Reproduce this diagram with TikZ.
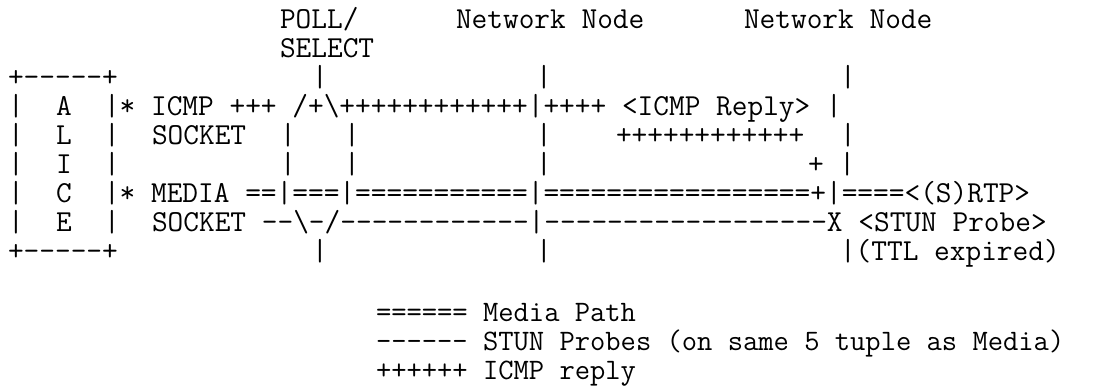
\documentclass[tikz,border=0pt]{standalone}
\usepackage{fontspec}
\newcommand{\mainmono}{\ttfamily\fontsize{30.48bp}{29bp}\selectfont}
\newcommand{\legmono}{\ttfamily\fontsize{29.7bp}{29bp}\selectfont}
\newcommand{\bs}{\textbackslash}
\tikzset{
  txt/.style={anchor=base west, inner sep=0pt, outer sep=0pt, font=\mainmono, text=black},
  leg/.style={anchor=base west, inner sep=0pt, outer sep=0pt, font=\legmono, text=black}
}
\begin{document}
\begin{tikzpicture}[x=1bp,y=-1bp]
\fill[white] (0,0) rectangle (1099,385);
\useasboundingbox (0,0) rectangle (1099,385);
% column c -> x = 8 + 16 c ; row r -> baseline y = 28.5 + 29 r
\def\C#1{8+16*#1}
\def\R#1{28.5+29*#1}
% row 0, 1
\node[txt] (poll)  at ({\C{17}},{\R{0}}) {POLL/};
\node[txt] (nn1)   at ({\C{28}},{\R{0}}) {Network Node};
\node[txt] (nn2)   at ({\C{46}},{\R{0}}) {Network Node};
\node[txt] (sel)   at ({\C{17}},{\R{1}}) {SELECT};
% row 2
\node[txt] (boxtop) at ({\C{0}},{\R{2}}) {+-----+};
\node[txt] (v2a) at ({\C{19}},{\R{2}}) {|};
\node[txt] (v2b) at ({\C{33}},{\R{2}}) {|};
\node[txt] (v2c) at ({\C{52}},{\R{2}}) {|};
% row 3
\node[txt] (l3a) at ({\C{0}},{\R{3}}) {|};
\node[txt] (ltA) at ({\C{3}},{\R{3}}) {A};
\node[txt] (l3b) at ({\C{6}},{\R{3}}) {|* ICMP +++ /+\bs++++++++++++|++++ <ICMP Reply> |};
% row 4
\node[txt] (l4a) at ({\C{0}},{\R{4}}) {|};
\node[txt] (ltL) at ({\C{3}},{\R{4}}) {L};
\node[txt] (l4b) at ({\C{6}},{\R{4}}) {|};
\node[txt] (sock1) at ({\C{9}},{\R{4}}) {SOCKET};
\node[txt] (l4c) at ({\C{17}},{\R{4}}) {|};
\node[txt] (l4d) at ({\C{21}},{\R{4}}) {|};
\node[txt] (l4e) at ({\C{33}},{\R{4}}) {|};
\node[txt] (l4f) at ({\C{38}},{\R{4}}) {++++++++++++};
\node[txt] (l4g) at ({\C{52}},{\R{4}}) {|};
% row 5
\node[txt] (l5a) at ({\C{0}},{\R{5}}) {|};
\node[txt] (ltI) at ({\C{3}},{\R{5}}) {I};
\node[txt] (l5b) at ({\C{6}},{\R{5}}) {|};
\node[txt] (l5c) at ({\C{17}},{\R{5}}) {|};
\node[txt] (l5d) at ({\C{21}},{\R{5}}) {|};
\node[txt] (l5e) at ({\C{33}},{\R{5}}) {|};
\node[txt] (l5f) at ({\C{50}},{\R{5}}) {+ |};
% row 6
\node[txt] (l6a) at ({\C{0}},{\R{6}}) {|};
\node[txt] (ltC) at ({\C{3}},{\R{6}}) {C};
\node[txt] (l6b) at ({\C{6}},{\R{6}}) {|* MEDIA ==|===|===========|=================+|====<(S)RTP>};
% row 7
\node[txt] (l7a) at ({\C{0}},{\R{7}}) {|};
\node[txt] (ltE) at ({\C{3}},{\R{7}}) {E};
\node[txt] (l7b) at ({\C{6}},{\R{7}}) {|};
\node[txt] (l7c) at ({\C{9}},{\R{7}}) {SOCKET --\bs-/------------|------------------X <STUN Probe>};
% row 8
\node[txt] (boxbot) at ({\C{0}},{\R{8}}) {+-----+};
\node[txt] (v8a) at ({\C{19}},{\R{8}}) {|};
\node[txt] (v8b) at ({\C{33}},{\R{8}}) {|};
\node[txt] (v8c) at ({\C{52}},{\R{8}}) {|(TTL expired)};
% legend
\node[leg] (lg1) at (376,{\R{10}+3}) {====== Media Path};
\node[leg] (lg2) at (376,{\R{11}+3}) {------ STUN Probes (on same 5 tuple as Media)};
\node[leg] (lg3) at (376,{\R{12}+3}) {++++++ ICMP reply};
\end{tikzpicture}
\end{document}
